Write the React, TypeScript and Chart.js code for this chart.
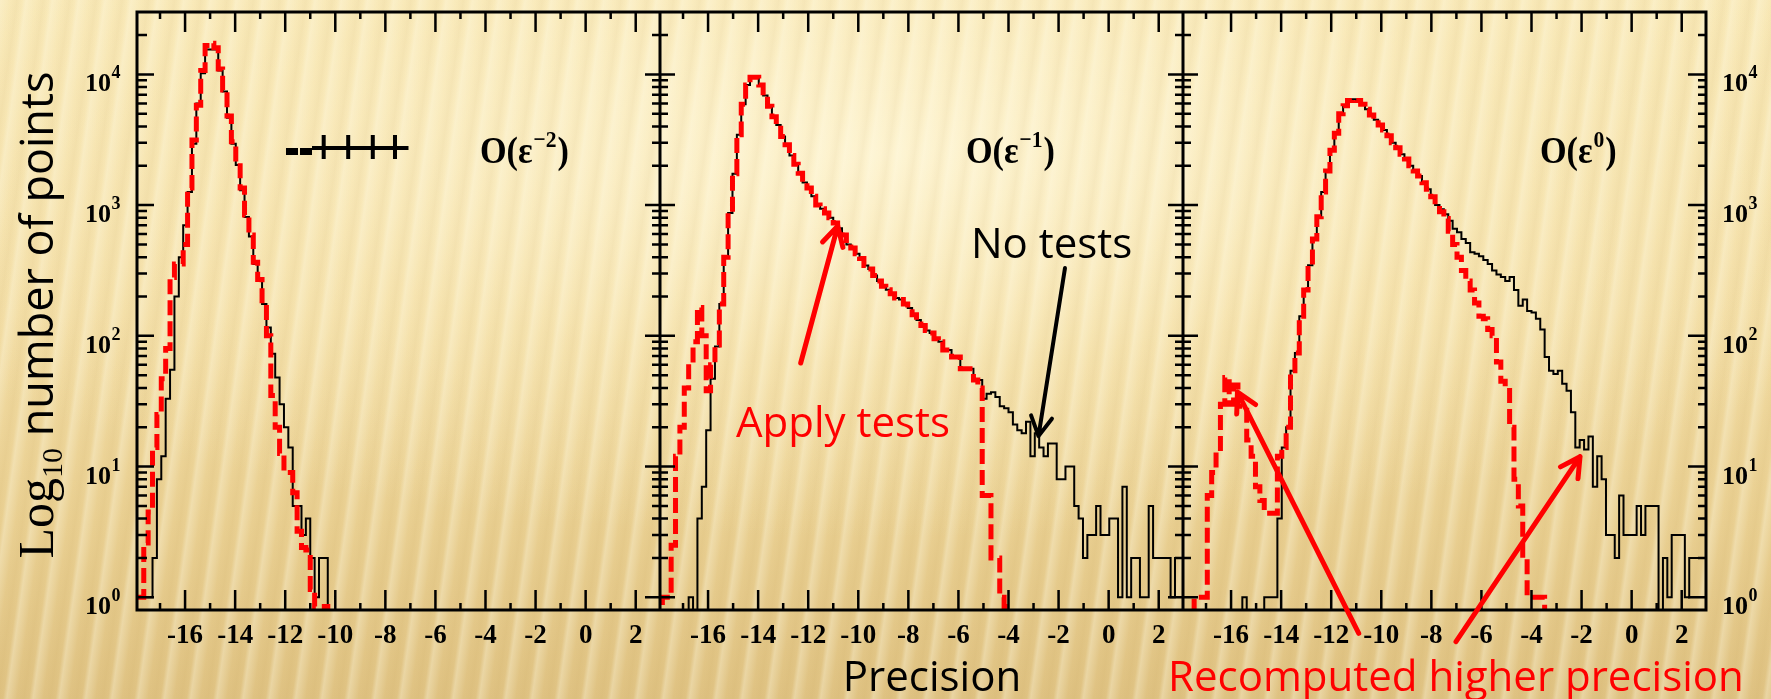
import React, { useEffect, useRef } from 'react';
import { Chart, registerables } from 'chart.js';

Chart.register(...registerables);

const CANVAS_W = 1771;
const CANVAS_H = 699;

// histogram binning: 120 bins over [-18, 3]
const BIN_START = -18;
const BIN_WIDTH = 0.175;

// axis ranges (each panel shows the same precision range)
const X_MIN = -17.92;
const X_MAX = 2.97;
const SPAN = X_MAX - X_MIN;
const Y_MIN = 0.8;
const Y_MAX = 30000;
const EMPTY = 0.3; // empty bins sit below the log axis

const xMajorTicks = [-16, -14, -12, -10, -8, -6, -4, -2, 0, 2];
const xMinorTicks = [-17, -15, -13, -11, -9, -7, -5, -3, -1, 1];
const yDecades = [1, 10, 100, 1000, 10000];
const yExponents = ['0', '1', '2', '3', '4'];
const panelOrders = ['−2', '−1', '0'];

// Panel 1: O(eps^-2)
const p1NoTests = [
  1, 1, 1, 1, 2, 8, 12, 33, 55, 200,
  400, 700, 1260, 2950, 6000, 10200, 15500, 15500, 15500, 10700,
  7400, 4650, 2950, 2030, 1300, 810, 575, 355, 263, 175,
  116, 73, 48, 30, 20, 14, 5, 5, 3, 4,
  2, 1, 2, 2, 0,
];
const p1Recomputed = [
  1, 1, 2.6, 4.5, 14, 25, 47, 80, 280, 355,
  355, 500, 1350, 3150, 5800, 10700, 16600, 17300, 16000, 11000,
  7600, 4800, 3050, 2100, 1350, 840, 590, 365, 270, 175,
  100, 35, 20, 12.6, 9, 9, 6.3, 3.2, 2.4, 2.3,
  1.15, 0.85, 0.85, 0.85, 0,
];

// Panel 2: O(eps^-1)
const p2NoTests = [
  0, 0, 0, 0, 0, 0, 0, 1, 0, 4,
  7, 19, 47, 83, 175, 400, 870, 1740, 3450, 5900,
  8300, 9500, 9500, 8300, 6900, 5700, 4750, 4100, 3350, 2900,
  2400, 2050, 1750, 1490, 1350, 1170, 1000, 940, 870, 800,
  730, 665, 590, 500, 470, 425, 390, 345, 325, 290,
  263, 240, 225, 210, 195, 190, 175, 163, 145, 132,
  120, 110, 105, 95, 90, 78, 78, 69, 69, 56,
  56, 56, 46, 46, 33, 36, 37, 34, 29, 28,
  26, 21, 19, 18, 22, 12, 18, 14, 12, 15,
  15, 8, 8, 10, 10, 5, 4, 2, 3, 3,
  5, 3, 3, 4, 4, 1, 7, 1, 2, 2,
  1, 1, 5, 2, 2, 2, 2, 1, 2, 2,
];
const p2Recomputed = [
  0, 1, 1, 2.5, 12, 20, 40, 62, 90, 165,
  100, 38, 60, 85, 175, 400, 870, 1740, 3450, 5900,
  8300, 9500, 9500, 8300, 6900, 5700, 4750, 4100, 3350, 2900,
  2400, 2050, 1750, 1490, 1350, 1170, 1000, 940, 870, 800,
  730, 665, 590, 500, 470, 425, 390, 345, 325, 290,
  263, 240, 225, 210, 195, 190, 175, 163, 145, 132,
  120, 110, 105, 95, 90, 78, 78, 69, 69, 56,
  56, 56, 46, 40, 6, 6, 2, 2, 1, 0.85,
  0,
];

// Panel 3: O(eps^0)
const p3NoTests = [
  0, 0, 0, 0, 0, 0, 0, 0, 0, 0,
  0, 0, 0, 0, 1, 0, 0, 0, 0, 1,
  1, 1, 4, 14, 20, 54, 74, 141, 224, 347,
  550, 813, 1260, 1820, 2630, 3550, 5000, 5750, 6300, 6450,
  6300, 5900, 5400, 4900, 4500, 4100, 3750, 3400, 3000, 2750,
  2450, 2250, 2000, 1820, 1670, 1480, 1320, 1160, 1000, 930,
  850, 760, 660, 620, 550, 513, 436, 425, 407, 380,
  355, 316, 295, 282, 263, 282, 224, 170, 190, 155,
  151, 135, 112, 69, 54, 51, 54, 43, 38, 26,
  14, 16, 13.5, 17, 7, 12, 8, 3, 3, 2,
  6, 3, 3, 3, 5, 3, 5, 5, 5, 0,
  2, 1, 3, 3, 3, 1, 2, 2, 2, 2,
];
const p3Recomputed = [
  0, 0, 0, 1, 1, 1, 6, 9, 13, 30,
  48, 30, 42, 29, 29, 16, 12, 7, 5.5, 4.4,
  4.4, 4.4, 12, 14, 20, 54, 74, 141, 224, 347,
  550, 813, 1260, 1820, 2630, 3550, 5000, 5750, 6300, 6450,
  6300, 5900, 5400, 4900, 4500, 4100, 3750, 3400, 3000, 2750,
  2450, 2250, 2000, 1820, 1670, 1480, 1320, 1160, 1000, 890,
  790, 630, 500, 400, 316, 263, 224, 178, 141, 135,
  112, 100, 63, 45, 40, 20, 8, 5, 2, 1,
  1, 1, 1, 0,
];

// annotation anchors: [panel, precision value, count]
const applyTestsAt = [1, -14.885, 16.84];
const noTestsAt = [1, -5.498, 394];
const precisionAt = [1, -7.056, 0.192];
const recomputedAt = [2, -18.519, 0.192];
const orderLabelAt = [[0, -4.22, 2099], [1, -5.698, 2099], [2, -3.661, 2099]];
const applyArrow = [[1, -12.3, 62.0], [1, -10.82, 692]];
const noTestsArrow = [[1, -1.744, 330], [1, -2.802, 17.1]];
const recompArrowA = [[2, -10.9, 0.531], [2, -15.745, 37.2]];
const recompArrowB = [[2, -7.016, 0.458], [2, -2.063, 11.9]];
const markerLine = [-11.969, -10.93, -7.076];
const markerCrosses = [-10.463, -9.484, -8.502, -7.615];
const markerCount = 2783;

function toPoints(values: number[], panel: number) {
  return values.map((v, i) => ({
    x: BIN_START + BIN_WIDTH * (i + 0.5) + panel * SPAN,
    y: v > 0 ? v : EMPTY,
  }));
}

function redSeries(label: string, values: number[], panel: number) {
  return {
    label,
    data: toPoints(values, panel),
    borderColor: '#ff0000',
    borderWidth: 5,
    borderDash: [15, 6],
    stepped: 'middle',
    pointRadius: 0,
    fill: false,
    clip: 0,
    order: 0,
  };
}
function blackSeries(label: string, values: number[], panel: number) {
  return {
    label,
    data: toPoints(values, panel),
    borderColor: '#000000',
    borderWidth: 2,
    stepped: 'middle',
    pointRadius: 0,
    fill: false,
    clip: 0,
    order: 1,
  };
}

const framePlugin = {
  id: 'frames',
  afterDatasetsDraw(chart: any) {
    const { ctx, chartArea: ca, scales } = chart;
    const xs = scales.x;
    const ys = scales.y;
    ctx.save();
    ctx.strokeStyle = '#000';
    ctx.lineCap = 'butt';
    const borders = [0, 1, 2, 3].map((p) => xs.getPixelForValue(X_MIN + p * SPAN));
    // x ticks
    ctx.lineWidth = 2.5;
    ctx.beginPath();
    for (let p = 0; p < 3; p++) {
      xMajorTicks.forEach((v) => {
        const x = xs.getPixelForValue(v + p * SPAN);
        ctx.moveTo(x, ca.bottom); ctx.lineTo(x, ca.bottom - 20);
        ctx.moveTo(x, ca.top); ctx.lineTo(x, ca.top + 20);
      });
      xMinorTicks.forEach((v) => {
        const x = xs.getPixelForValue(v + p * SPAN);
        ctx.moveTo(x, ca.bottom); ctx.lineTo(x, ca.bottom - 7);
        ctx.moveTo(x, ca.top); ctx.lineTo(x, ca.top + 7);
      });
    }
    // y ticks
    for (let n = 0; n <= 4; n++) {
      for (let m = 1; m <= 9; m++) {
        const val = m * Math.pow(10, n);
        if (val >= Y_MAX) continue;
        const y = ys.getPixelForValue(val);
        const major = m === 1;
        borders.forEach((bx, b) => {
          if (b === 0) {
            ctx.moveTo(bx, y); ctx.lineTo(bx + (major ? 17 : 10), y);
          } else if (b === 3) {
            ctx.moveTo(bx, y); ctx.lineTo(bx - (major ? 18 : 8), y);
          } else {
            const l = major ? 15 : 8;
            ctx.moveTo(bx - l, y); ctx.lineTo(bx + l, y);
          }
        });
      }
    }
    ctx.stroke();
    // frames
    ctx.lineWidth = 3;
    ctx.beginPath();
    ctx.moveTo(borders[0], ca.top); ctx.lineTo(borders[3], ca.top);
    ctx.moveTo(borders[0], ca.bottom); ctx.lineTo(borders[3], ca.bottom);
    borders.forEach((bx) => { ctx.moveTo(bx, ca.top - 1.5); ctx.lineTo(bx, ca.bottom + 1.5); });
    ctx.stroke();

    // decade labels 10^n on the outer left and right axes
    const fBase = 'bold 26px "Liberation Serif", serif';
    const fExp = 'bold 18px "Liberation Serif", serif';
    ctx.fillStyle = '#000';
    ctx.textBaseline = 'alphabetic';
    ctx.textAlign = 'left';
    yDecades.forEach((val, i) => {
      const y = ys.getPixelForValue(val);
      ctx.font = fBase; const wb = ctx.measureText('10').width;
      ctx.font = fExp; const we = ctx.measureText(yExponents[i]).width;
      const starts = [borders[0] - 17 - (wb + we), borders[3] + 16];
      starts.forEach((sx) => {
        ctx.font = fBase; ctx.fillText('10', sx, y + 17);
        ctx.font = fExp; ctx.fillText(yExponents[i], sx + wb + 0.5, y + 4);
      });
    });
    ctx.restore();
  },
};

function drawArrow(ctx: any, x1: number, y1: number, x2: number, y2: number, color: string, lw: number, head: number) {
  ctx.strokeStyle = color;
  ctx.lineWidth = lw;
  ctx.lineCap = 'round';
  ctx.lineJoin = 'round';
  ctx.beginPath();
  ctx.moveTo(x1, y1);
  ctx.lineTo(x2, y2);
  const ang = Math.atan2(y1 - y2, x1 - x2);
  [-0.5, 0.5].forEach((d) => {
    ctx.moveTo(x2, y2);
    ctx.lineTo(x2 + head * Math.cos(ang + d), y2 + head * Math.sin(ang + d));
  });
  ctx.stroke();
}

const annotationPlugin = {
  id: 'annotations',
  afterDraw(chart: any) {
    const { ctx, chartArea: ca, scales } = chart;
    const px = (p: number, v: number) => scales.x.getPixelForValue(v + p * SPAN);
    const py = (c: number) => scales.y.getPixelForValue(c);
    ctx.save();

    // y-axis title
    ctx.save();
    ctx.translate(ca.left - 84, (ca.top + ca.bottom) / 2 + 4);
    ctx.rotate(-Math.PI / 2);
    ctx.fillStyle = '#000';
    ctx.textAlign = 'left';
    ctx.textBaseline = 'alphabetic';
    const fLog = '50px "Liberation Serif", serif';
    const fSub = '30px "Liberation Serif", serif';
    const fRest = '45px "Open Sans", sans-serif';
    ctx.font = fLog; const w1 = ctx.measureText('Log').width;
    ctx.font = fSub; const w2 = ctx.measureText('10').width;
    ctx.font = fRest; const w3 = ctx.measureText(' number of points').width;
    const x0 = -(w1 + w2 + w3) / 2;
    ctx.font = fLog; ctx.fillText('Log', x0, 0);
    ctx.font = fSub; ctx.fillText('10', x0 + w1, 9);
    ctx.font = fRest; ctx.fillText(' number of points', x0 + w1 + w2, 0);
    ctx.restore();

    // order labels O(eps^n)
    ctx.fillStyle = '#000';
    ctx.textAlign = 'left';
    ctx.textBaseline = 'alphabetic';
    orderLabelAt.forEach(([p, v, c], i) => {
      ctx.save();
      ctx.translate(px(p, v), py(c));
      ctx.scale(0.9, 1);
      ctx.font = 'bold 38px "Liberation Serif", serif';
      ctx.fillText('O(ε', 0, 0);
      let w = ctx.measureText('O(ε').width;
      ctx.font = 'bold 24px "Liberation Serif", serif';
      ctx.fillText(panelOrders[i], w + 1, -16);
      w += ctx.measureText(panelOrders[i]).width + 2;
      ctx.font = 'bold 38px "Liberation Serif", serif';
      ctx.fillText(')', w, 0);
      ctx.restore();
    });

    // marker in panel 1
    const my = py(markerCount);
    const mx0 = px(0, markerLine[0]);
    const mx1 = px(0, markerLine[1]);
    const mx2 = px(0, markerLine[2]);
    ctx.fillStyle = '#000';
    const half = (mx1 - mx0) / 2;
    ctx.fillRect(mx0, my + 1, half - 1, 7);
    ctx.fillRect(mx0 + half + 1, my + 1, half - 1, 7);
    ctx.strokeStyle = '#000';
    ctx.lineWidth = 4;
    ctx.lineCap = 'butt';
    ctx.beginPath();
    ctx.moveTo(mx1, my + 1); ctx.lineTo(mx2, my + 1);
    markerCrosses.forEach((v) => {
      const x = px(0, v);
      ctx.moveTo(x, my - 12); ctx.lineTo(x, my + 12);
    });
    ctx.stroke();

    // arrows
    const arr = (a: number[][], color: string, lw: number) =>
      drawArrow(ctx, px(a[0][0], a[0][1]), py(a[0][2]), px(a[1][0], a[1][1]), py(a[1][2]), color, lw, 22);
    arr(applyArrow, '#ff0000', 5);
    arr(noTestsArrow, '#000000', 4);
    arr(recompArrowA, '#ff0000', 5);
    arr(recompArrowB, '#ff0000', 5);

    // texts
    ctx.font = '42px "Open Sans", sans-serif';
    ctx.textBaseline = 'alphabetic';
    ctx.textAlign = 'left';
    ctx.fillStyle = '#ff0000';
    ctx.fillText('Apply tests', px(applyTestsAt[0], applyTestsAt[1]), py(applyTestsAt[2]));
    ctx.fillText('Recomputed higher precision', px(recomputedAt[0], recomputedAt[1]), py(recomputedAt[2]));
    ctx.fillStyle = '#000000';
    ctx.fillText('No tests', px(noTestsAt[0], noTestsAt[1]), py(noTestsAt[2]));
    ctx.textAlign = 'center';
    ctx.fillText('Precision', px(precisionAt[0], precisionAt[1]), py(precisionAt[2]));

    ctx.restore();
  },
};

export default function App() {
  const canvasRef = useRef<HTMLCanvasElement | null>(null);

  useEffect(() => {
    const canvas = canvasRef.current;
    if (!canvas) return;
    const tickFont = { family: '"Liberation Serif", serif', size: 27, weight: 'bold' as const };
    const chart = new Chart(canvas, {
      type: 'line',
      data: {
        datasets: [
          redSeries('O(ε⁻²) recomputed', p1Recomputed, 0),
          redSeries('O(ε⁻¹) apply tests', p2Recomputed, 1),
          redSeries('O(ε⁰) recomputed', p3Recomputed, 2),
          blackSeries('O(ε⁻²) no tests', p1NoTests, 0),
          blackSeries('O(ε⁻¹) no tests', p2NoTests, 1),
          blackSeries('O(ε⁰) no tests', p3NoTests, 2),
        ] as any,
      },
      options: {
        responsive: false,
        maintainAspectRatio: false,
        devicePixelRatio: 1,
        animation: false,
        layout: { padding: { top: 12, left: 0, right: 0, bottom: 0 } },
        plugins: { legend: { display: false }, tooltip: { enabled: false } },
        elements: { point: { radius: 0 }, line: { tension: 0 } },
        scales: {
          x: {
            type: 'linear',
            position: 'bottom',
            min: X_MIN,
            max: X_MAX + 2 * SPAN,
            grid: { display: false, drawTicks: false },
            border: { display: false },
            ticks: {
              color: '#000',
              font: tickFont,
              padding: 10,
              autoSkip: false,
              maxRotation: 0,
              minRotation: 0,
              callback: (value: any) => {
                const v = Number(value);
                const p = Math.round((v + 7) / SPAN);
                return String(Math.round(v - p * SPAN));
              },
            },
            afterBuildTicks: (s: any) => {
              s.ticks = [0, 1, 2].flatMap((p) => xMajorTicks.map((v) => ({ value: v + p * SPAN })));
            },
            afterFit: (s: any) => {
              s.height = 89;
              s.paddingLeft = 0;
              s.paddingRight = 0;
            },
          },
          y: {
            type: 'logarithmic',
            position: 'left',
            min: Y_MIN,
            max: Y_MAX,
            grid: { display: false, drawTicks: false },
            border: { display: false },
            ticks: { callback: () => '' },
            afterBuildTicks: (s: any) => { s.ticks = yDecades.map((v) => ({ value: v })); },
            afterFit: (s: any) => { s.width = 137; s.paddingTop = 0; s.paddingBottom = 0; },
          },
          y2: {
            type: 'logarithmic',
            position: 'right',
            min: Y_MIN,
            max: Y_MAX,
            grid: { display: false, drawTicks: false },
            border: { display: false },
            ticks: { callback: () => '' },
            afterBuildTicks: (s: any) => { s.ticks = yDecades.map((v) => ({ value: v })); },
            afterFit: (s: any) => { s.width = 65; s.paddingTop = 0; s.paddingBottom = 0; },
          },
        },
      } as any,
      plugins: [framePlugin, annotationPlugin],
    });
    return () => chart.destroy();
  }, []);

  return (
    <div
      style={{
        position: 'absolute',
        left: 0,
        top: 0,
        width: CANVAS_W,
        height: CANVAS_H,
        overflow: 'hidden',
        background: [
          'repeating-linear-gradient(98deg, rgba(255,251,230,0.32) 0px, rgba(255,251,230,0) 10px, rgba(175,135,55,0.06) 17px, rgba(255,251,230,0) 22px, rgba(255,251,230,0.32) 26px)',
          'radial-gradient(ellipse 65% 55% at 50% 22%, rgba(254,245,212,0.9) 0%, rgba(250,235,188,0.5) 55%, rgba(250,235,188,0) 100%)',
          'linear-gradient(to bottom, #f8e8b6 0%, #f2dca3 45%, #e9cf91 75%, #dfc282 100%)',
        ].join(', '),
      }}
    >
      <canvas ref={canvasRef} width={CANVAS_W} height={CANVAS_H} style={{ display: 'block' }} />
    </div>
  );
}
